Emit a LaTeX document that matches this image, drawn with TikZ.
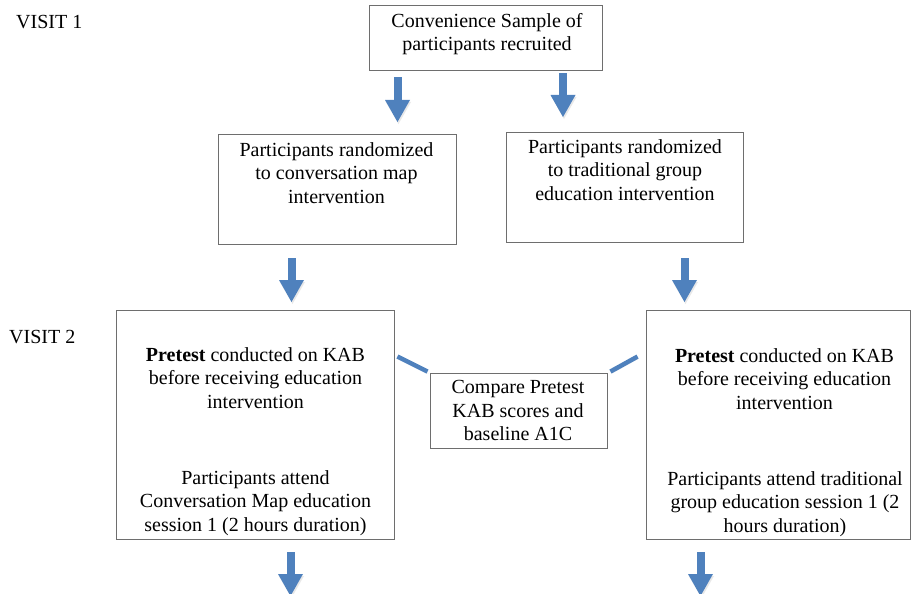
\documentclass[tikz,border=0pt]{standalone}
\usepackage{fontspec}
\setmainfont{Liberation Serif}
\usetikzlibrary{arrows.meta,calc}
\definecolor{arrowblue}{RGB}{79,129,189}
\definecolor{boxgray}{RGB}{110,110,110}
\begin{document}
\begin{tikzpicture}[x=1pt,y=-1pt,
  box/.style={draw=boxgray, line width=0.9pt, rectangle, inner sep=0pt, fill=white},
  txt/.style={inner sep=0pt, align=center, anchor=north, font=\fontsize{20}{23.5}\selectfont},
  lbl/.style={inner sep=0pt, anchor=base west, font=\fontsize{20}{23.5}\selectfont},
  blockarrow/.style={draw=arrowblue, line width=8pt,
    -{Triangle[width=25pt,length=22pt,line width=0pt]},
    preaction={draw=black!60, opacity=0.15, transform canvas={shift={(1pt,-2pt)}}}},
  link/.style={draw=arrowblue, line width=4.5pt,
    preaction={draw=black!60, opacity=0.15, transform canvas={shift={(1pt,-2pt)}}}}
]
\useasboundingbox (0,0) rectangle (911,594);

% boxes
\node[box, minimum width=233pt, minimum height=65pt] (top) at (485.5,37.5) {};
\node[box, minimum width=238pt, minimum height=110pt] (b2) at (337,189) {};
\node[box, minimum width=237pt, minimum height=110pt] (b3) at (624.5,187) {};
\node[box, minimum width=278pt, minimum height=229pt] (bigL) at (255,424.5) {};
\node[box, minimum width=264pt, minimum height=229pt] (bigR) at (778,424.5) {};
\node[box, minimum width=177pt, minimum height=75pt] (mid) at (518.5,410.5) {};

% texts
\node[lbl] (v1) at (16,29) {VISIT 1};
\node[lbl] (v2) at (9,343) {VISIT 2};
\node[txt] (ttop) at (487,13.2) {Convenience Sample of\\participants recruited};
\node[txt] (tb2) at (336.5,142.2) {Participants randomized\\to conversation map\\intervention};
\node[txt] (tb3) at (625,139.2) {Participants randomized\\to traditional group\\education intervention};
\node[txt] (tmid) at (518,380.2) {Compare Pretest\\KAB scores and\\baseline A1C};
\node[txt] (tL1) at (255.5,347.2) {\textbf{Pretest} conducted on KAB\\before receiving education\\intervention};
\node[txt] (tL2) at (255.5,470.2) {Participants attend\\Conversation Map education\\session 1 (2 hours duration)};
\node[txt] (tR1) at (784.5,348.2) {\textbf{Pretest} conducted on KAB\\before receiving education\\intervention};
\node[txt] (tR2) at (785,471.2) {Participants attend traditional\\group education session 1 (2\\hours duration)};

% arrow end points
\coordinate (a1s) at ($(top.south -| 397.5,0)+(0,7)$);
\coordinate (a1e) at (397.5,122);
\coordinate (a2s) at ($(top.south -| 563,0)+(0,3)$);
\coordinate (a2e) at (563,117);
\coordinate (a3s) at ($(b2.south -| 291.5,0)+(0,14)$);
\coordinate (a3e) at (291.5,302);
\coordinate (a4s) at ($(b3.south -| 684.5,0)+(0,16)$);
\coordinate (a4e) at (684.5,302);
\coordinate (a5s) at ($(bigL.south -| 290.5,0)+(0,13)$);
\coordinate (a5e) at (290.5,596);
\coordinate (a6s) at ($(bigR.south -| 700.5,0)+(0,13)$);
\coordinate (a6e) at (700.5,596);

\draw[blockarrow] (a1s) -- (a1e);
\draw[blockarrow] (a2s) -- (a2e);
\draw[blockarrow] (a3s) -- (a3e);
\draw[blockarrow] (a4s) -- (a4e);
\draw[blockarrow] (a5s) -- (a5e);
\draw[blockarrow] (a6s) -- (a6e);

% links to comparison box
\draw[link] ($(bigL.north east)+(3,47)$) -- ($(mid.north west)+(-2,-1)$);
\draw[link] ($(mid.north east)+(3,-1)$) -- ($(bigR.north west)+(-8,47)$);
\end{tikzpicture}
\end{document}
